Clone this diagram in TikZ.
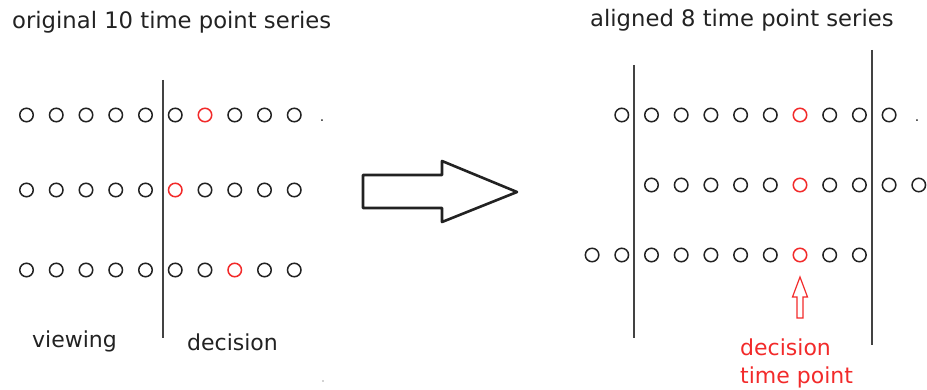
\documentclass[tikz,border=0pt]{standalone}
\usepackage{fontspec}
\setmainfont{DejaVu Sans}
\definecolor{ink}{HTML}{222222}
\definecolor{rd}{HTML}{F22A2A}
\tikzset{
  tp/.style={circle,draw=ink,line width=1.5pt,minimum size=13.5pt,inner sep=0pt},
  tpred/.style={tp,draw=rd},
  lbl/.style={font=\fontsize{22}{26}\selectfont,inner sep=0pt,anchor=base west,text=ink},
  ttl/.style={lbl,font=\fontsize{22.7}{27}\selectfont},
  redlbl/.style={lbl,text=rd},
  sep/.style={draw=ink!85,line width=1.5pt},
  dotmark/.style={font=\fontsize{14}{14}\selectfont,inner sep=0pt,text=ink}
}
\begin{document}
\begin{tikzpicture}[x=1pt,y=-1pt]
\useasboundingbox (0,0) rectangle (927,390);
% titles
\node[ttl] (t1) at (12,29) {original 10 time point series};
\node[ttl] (t2) at (590,27) {aligned 8 time point series};
% left panel rows
\foreach \i in {0,1,2,3,4,5,7,8,9}
  \node[tp] (a\i) at (26.5+29.75*\i,115) {};
\node[tpred] (a6) at (26.5+29.75*6,115) {};
\foreach \i in {0,1,2,3,4,6,7,8,9}
  \node[tp] (b\i) at (26.5+29.75*\i,190) {};
\node[tpred] (b5) at (26.5+29.75*5,190) {};
\foreach \i in {0,1,2,3,4,5,6,8,9}
  \node[tp] (c\i) at (26.5+29.75*\i,270) {};
\node[tpred] (c7) at (26.5+29.75*7,270) {};
\node[dotmark] (p1) at (322,121) {.};
% left separator
\coordinate (s1t) at (163,80);
\coordinate (s1b) at (163,338);
\draw[sep] (s1t) -- (s1b);
\node[lbl] (view) at (32,348) {viewing};
\node[lbl] (dec) at (187,350) {decision};
% big arrow
\draw[ink,line width=2.6pt,line join=round,fill=white]
  (363,175) -- (442,175) -- (442,161) -- (517,192) -- (442,222) -- (442,208) -- (363,208) -- cycle;
% right panel rows
\foreach \k in {-6,-5,-4,-3,-2,-1,1,2,3}
  \node[tp] (d\k) at (800+29.7*\k,115) {};
\node[tpred] (d0) at (800,115) {};
\foreach \k in {-5,-4,-3,-2,-1,1,2,3,4}
  \node[tp] (e\k) at (800+29.7*\k,185) {};
\node[tpred] (e0) at (800,185) {};
\foreach \k in {-7,-6,-5,-4,-3,-2,-1,1,2}
  \node[tp] (f\k) at (800+29.7*\k,255) {};
\node[tpred] (f0) at (800,255) {};
\node[dotmark] (p2) at (917,121) {.};
% right separators
\coordinate (s2t) at (634,65);
\coordinate (s2b) at (634,338);
\coordinate (s3t) at (872,50);
\coordinate (s3b) at (872,345);
\draw[sep] (s2t) -- (s2b);
\draw[sep] (s3t) -- (s3b);
% small red arrow
\draw[rd,line width=1.2pt,line join=miter]
  (800,277) -- (807.5,297) -- (803,297) -- (803,318) -- (797,318) -- (797,297) -- (792.5,297) -- cycle;
\node[redlbl] (dtp1) at (740,355) {decision};
\node[redlbl] (dtp2) at (740,383) {time point};
% stray faint mark
\fill[black!35] (323,381) circle (0.8);
\end{tikzpicture}
\end{document}
